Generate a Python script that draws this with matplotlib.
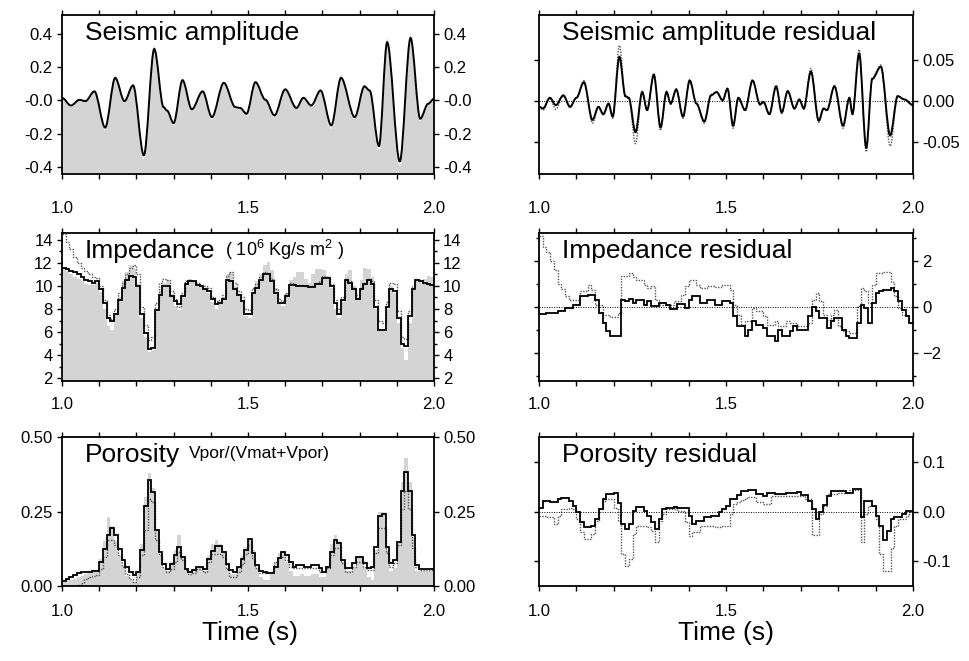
import numpy as np
import matplotlib
matplotlib.use("Agg")
import matplotlib.pyplot as plt
from matplotlib.ticker import FixedLocator, FuncFormatter, MultipleLocator
from matplotlib.path import Path
from matplotlib.patches import PathPatch

plt.rcParams['font.family'] = ['Liberation Sans', 'DejaVu Sans']
plt.rcParams['mathtext.default'] = 'regular'

# ---------------- data ----------------
seis_t = [1.000, 1.024, 1.047, 1.063, 1.087, 1.116, 1.143, 1.168, 1.191, 1.220,
          1.248, 1.273, 1.282, 1.300, 1.324, 1.349, 1.378, 1.403, 1.435, 1.466,
          1.479, 1.496, 1.520, 1.547, 1.571, 1.600, 1.630, 1.649, 1.670, 1.695,
          1.724, 1.750, 1.787, 1.813, 1.827, 1.852, 1.874, 1.908, 1.937, 1.963,
          1.984, 2.000]
seis_inv = [0.016, -0.030, 0.004, -0.004, 0.055, -0.163, 0.136, -0.004, 0.091, -0.330,
            0.310, -0.040, -0.060, -0.136, 0.122, -0.053, 0.055, -0.100, 0.106, -0.040,
            -0.045, -0.080, 0.110, 0.004, -0.090, 0.067, -0.045, 0.016, -0.030, 0.060,
            -0.150, 0.136, -0.100, 0.085, 0.060, -0.274, 0.350, -0.366, 0.376, -0.110,
            -0.020, 0.010]
seis_obs = [0.018, -0.035, 0.005, -0.006, 0.060, -0.175, 0.150, -0.008, 0.100, -0.350,
            0.330, -0.045, -0.065, -0.145, 0.135, -0.060, 0.062, -0.110, 0.115, -0.045,
            -0.050, -0.090, 0.120, 0.004, -0.100, 0.075, -0.050, 0.018, -0.035, 0.068,
            -0.165, 0.150, -0.110, 0.095, 0.065, -0.295, 0.380, -0.390, 0.400, -0.120,
            -0.022, 0.010]

res_t = [1.000, 1.011, 1.029, 1.045, 1.065, 1.083, 1.100, 1.120, 1.143, 1.159,
         1.172, 1.186, 1.197, 1.215, 1.231, 1.240, 1.258, 1.276, 1.289, 1.307,
         1.325, 1.341, 1.352, 1.367, 1.385, 1.403, 1.421, 1.442, 1.460, 1.475,
         1.491, 1.504, 1.519, 1.533, 1.551, 1.571, 1.591, 1.600, 1.616, 1.634,
         1.649, 1.665, 1.683, 1.696, 1.708, 1.727, 1.748, 1.761, 1.770, 1.790,
         1.813, 1.830, 1.838, 1.856, 1.875, 1.891, 1.914, 1.939, 1.959, 1.977,
         2.000]
seisres_a = [-0.007, -0.009, 0.004, -0.005, 0.007, -0.007, 0.004, 0.023, -0.023, -0.007,
             -0.016, -0.003, -0.019, 0.054, 0.006, 0.004, -0.038, 0.011, -0.011, 0.032,
             -0.032, 0.011, -0.003, 0.014, -0.019, 0.025, -0.003, -0.025, 0.007, 0.011,
             0.001, 0.015, -0.030, 0.004, -0.011, 0.025, -0.004, -0.001, -0.016, 0.018,
             -0.014, 0.012, -0.009, 0.002, -0.009, 0.036, -0.024, -0.009, -0.011, 0.018,
             -0.030, 0.004, -0.016, 0.058, -0.057, 0.027, 0.042, -0.042, 0.006, 0.002,
             -0.005]
seisres_b = [-0.007, -0.011, 0.003, -0.010, 0.006, -0.008, 0.004, 0.025, -0.027, -0.008,
             -0.017, -0.004, -0.021, 0.068, 0.005, 0.003, -0.052, 0.012, -0.012, 0.034,
             -0.036, 0.012, -0.004, 0.015, -0.021, 0.026, -0.004, -0.027, 0.008, 0.011,
             0.000, 0.016, -0.033, 0.004, -0.012, 0.026, -0.005, -0.002, -0.017, 0.019,
             -0.015, 0.013, -0.010, 0.002, -0.010, 0.040, -0.026, -0.010, -0.012, 0.019,
             -0.033, 0.004, -0.017, 0.063, -0.062, 0.028, 0.044, -0.055, 0.006, 0.002,
             -0.005]

# step series on 0.01 s layers from 1.00 to 2.00
imp_inv = [11.6, 11.5, 11.3, 11.2, 11.0, 10.8, 10.5, 10.4, 10.3, 10.4,
           9.7, 8.5, 7.2, 7.0, 7.6, 8.8, 9.8, 10.5, 10.9, 10.8,
           10.0, 7.6, 5.9, 4.5, 4.6, 7.9, 9.2, 10.0, 10.0, 9.1,
           8.7, 8.4, 9.1, 10.2, 10.4, 10.4, 10.1, 10.0, 9.7, 9.6,
           8.9, 8.4, 8.5, 8.9, 10.5, 10.4, 9.7, 9.2, 8.7, 7.6,
           7.6, 9.4, 9.8, 10.5, 11.0, 11.0, 10.4, 9.4, 8.5, 8.5,
           9.1, 10.1, 10.1, 10.0, 10.0, 10.0, 9.9, 9.9, 10.2, 10.2,
           10.7, 10.7, 10.0, 8.5, 7.6, 8.8, 10.5, 10.3, 9.7, 8.9,
           9.7, 10.2, 10.5, 10.2, 8.2, 6.2, 6.2, 8.2, 9.7, 9.6,
           7.2, 5.0, 4.8, 7.4, 9.7, 10.5, 10.4, 10.3, 10.2, 10.1]
imp_dot = [14.5, 13.8, 13.2, 12.5, 12.0, 11.6, 11.3, 11.0, 10.8, 10.7,
           10.0, 8.8, 7.5, 7.1, 8.0, 9.4, 10.3, 11.0, 11.6, 11.8,
           11.0, 8.2, 6.6, 5.3, 5.6, 8.5, 10.3, 10.6, 10.5, 9.6,
           8.9, 8.2, 9.4, 10.4, 10.5, 10.4, 10.3, 10.1, 10.0, 9.8,
           9.0, 8.7, 8.8, 9.2, 10.9, 11.2, 10.3, 9.6, 9.0, 8.0,
           7.9, 9.8, 10.2, 10.8, 11.2, 11.1, 10.6, 9.7, 8.9, 8.7,
           9.4, 10.3, 10.2, 10.1, 10.1, 10.0, 10.0, 10.0, 10.3, 10.4,
           10.9, 10.8, 10.2, 8.8, 8.0, 9.0, 10.6, 10.4, 9.8, 9.2,
           9.8, 10.3, 10.6, 10.4, 8.8, 7.0, 6.8, 8.6, 10.3, 10.2,
           7.8, 5.6, 5.4, 7.8, 10.0, 10.6, 10.5, 10.3, 10.2, 10.1]
imp_true = [11.5, 11.3, 11.0, 10.8, 10.6, 10.4, 10.2, 10.1, 10.1, 10.3,
            9.5, 8.0, 6.5, 6.2, 7.5, 9.0, 10.4, 11.2, 11.8, 11.5,
            10.2, 7.2, 5.6, 4.3, 4.4, 8.0, 9.6, 10.3, 10.5, 9.3,
            8.3, 7.9, 9.2, 10.5, 10.6, 10.4, 10.2, 10.0, 9.8, 9.4,
            8.6, 8.0, 8.4, 9.0, 11.0, 11.2, 10.0, 9.4, 8.6, 7.4,
            7.2, 9.5, 10.4, 11.0, 11.8, 12.1, 11.4, 9.8, 8.6, 8.3,
            9.4, 10.5, 10.8, 11.2, 11.2, 10.6, 10.3, 11.0, 11.5, 11.5,
            11.4, 10.9, 9.8, 8.0, 7.2, 8.6, 11.0, 11.4, 10.0, 9.0,
            10.5, 11.6, 11.5, 10.8, 8.0, 6.2, 6.3, 8.0, 10.0, 9.4,
            6.8, 4.6, 3.6, 6.8, 9.8, 10.5, 10.4, 10.6, 10.9, 10.8]

por_inv = [0.017, 0.022, 0.030, 0.037, 0.042, 0.046, 0.047, 0.048, 0.049, 0.050,
           0.080, 0.125, 0.170, 0.196, 0.170, 0.125, 0.086, 0.064, 0.047, 0.036,
           0.047, 0.120, 0.270, 0.357, 0.315, 0.187, 0.114, 0.075, 0.058, 0.075,
           0.103, 0.131, 0.097, 0.058, 0.047, 0.055, 0.064, 0.064, 0.058, 0.092,
           0.117, 0.133, 0.133, 0.114, 0.075, 0.053, 0.047, 0.064, 0.092, 0.120,
           0.159, 0.110, 0.070, 0.050, 0.047, 0.045, 0.042, 0.064, 0.093, 0.115,
           0.104, 0.081, 0.064, 0.070, 0.070, 0.064, 0.064, 0.070, 0.070, 0.059,
           0.047, 0.064, 0.115, 0.155, 0.144, 0.087, 0.059, 0.059, 0.076, 0.098,
           0.098, 0.076, 0.059, 0.064, 0.132, 0.234, 0.240, 0.132, 0.076, 0.087,
           0.149, 0.319, 0.381, 0.319, 0.172, 0.070, 0.057, 0.057, 0.057, 0.057]
por_dot = [0.000, 0.000, 0.000, 0.000, 0.004, 0.010, 0.025, 0.030, 0.033, 0.036,
           0.058, 0.097, 0.153, 0.153, 0.136, 0.103, 0.064, 0.041, 0.025, 0.013,
           0.030, 0.103, 0.187, 0.293, 0.282, 0.153, 0.103, 0.064, 0.047, 0.058,
           0.080, 0.114, 0.086, 0.053, 0.041, 0.045, 0.058, 0.058, 0.047, 0.080,
           0.108, 0.108, 0.108, 0.097, 0.058, 0.030, 0.030, 0.047, 0.075, 0.108,
           0.138, 0.093, 0.059, 0.045, 0.042, 0.042, 0.047, 0.081, 0.098, 0.098,
           0.087, 0.064, 0.059, 0.059, 0.059, 0.059, 0.059, 0.059, 0.059, 0.047,
           0.047, 0.059, 0.104, 0.127, 0.127, 0.076, 0.047, 0.047, 0.064, 0.081,
           0.081, 0.064, 0.053, 0.053, 0.110, 0.195, 0.195, 0.110, 0.064, 0.076,
           0.138, 0.257, 0.319, 0.257, 0.127, 0.064, 0.053, 0.053, 0.053, 0.053]
por_true = [0.020, 0.020, 0.020, 0.025, 0.030, 0.035, 0.040, 0.045, 0.050, 0.055,
            0.090, 0.150, 0.230, 0.200, 0.150, 0.100, 0.060, 0.035, 0.020, 0.015,
            0.050, 0.140, 0.300, 0.380, 0.330, 0.190, 0.100, 0.060, 0.050, 0.080,
            0.120, 0.170, 0.100, 0.050, 0.040, 0.050, 0.060, 0.060, 0.050, 0.100,
            0.140, 0.155, 0.140, 0.110, 0.060, 0.040, 0.040, 0.060, 0.100, 0.130,
            0.160, 0.120, 0.060, 0.030, 0.020, 0.020, 0.040, 0.080, 0.110, 0.110,
            0.080, 0.050, 0.035, 0.035, 0.040, 0.035, 0.035, 0.040, 0.040, 0.030,
            0.030, 0.060, 0.140, 0.170, 0.150, 0.080, 0.050, 0.050, 0.060, 0.100,
            0.100, 0.060, 0.030, 0.020, 0.120, 0.250, 0.250, 0.120, 0.050, 0.060,
            0.150, 0.350, 0.430, 0.350, 0.160, 0.050, 0.050, 0.050, 0.050, 0.050]

impres_a = [-0.29, -0.29, -0.26, -0.26, -0.26, -0.19, -0.19, -0.04, -0.04, 0.10,
            0.10, 0.46, 0.46, 0.53, 0.53, 0.32, -0.26, -0.69, -1.05, -1.24,
            -1.24, -1.24, 0.32, 0.24, 0.35, 0.17, 0.32, 0.32, 0.10, 0.24,
            0.03, 0.03, 0.17, 0.17, 0.10, -0.09, -0.09, 0.14, 0.14, -0.04,
            0.32, 0.49, 0.49, 0.17, 0.17, 0.29, 0.29, 0.10, 0.10, 0.24,
            0.24, 0.17, -0.40, -0.83, -0.83, -1.27, -0.98, -0.62, -0.76, -0.76,
            -0.91, -1.27, -1.27, -1.48, -0.98, -1.27, -1.27, -1.05, -0.83, -0.98,
            -0.98, -1.00, -0.40, 0.00, -0.19, -0.47, -0.47, -0.91, -0.62, -0.47,
            -0.47, -0.98, -1.27, -1.34, -1.34, -0.69, 0.10, -0.04, -0.69, 0.17,
            0.60, 0.68, 0.75, 0.75, 0.82, 0.68, 0.24, -0.12, -0.40, -0.69]
impres_b = [3.05, 2.60, 2.40, 2.00, 1.60, 1.00, 0.80, 0.46, 0.32, 0.32,
            0.32, 0.68, 0.68, 0.96, 0.75, 0.10, 0.10, -0.33, -0.33, -0.43,
            -0.43, -0.26, 1.35, 1.35, 1.47, 1.30, 1.18, 1.18, 0.96, 0.82,
            0.90, 0.32, 0.10, 0.10, 0.10, 0.10, 0.24, 0.24, 0.53, 0.90,
            1.18, 1.18, 0.96, 0.82, 0.82, 0.90, 0.90, 0.86, 0.86, 0.96,
            0.96, 0.75, 0.10, -0.33, -0.76, -0.62, -0.62, -0.04, -0.19, -0.19,
            -0.40, -0.76, -0.76, -0.62, -0.83, -0.83, -0.62, -0.69, -0.69, -0.83,
            -0.83, -0.83, -0.69, 0.32, 0.60, 0.24, -0.33, -0.55, -0.33, -0.12,
            -0.83, -1.05, -1.05, -1.12, -1.12, 0.03, 0.82, 0.68, 0.17, 0.96,
            1.47, 1.47, 1.50, 1.50, 1.10, 0.46, -0.04, -0.33, -0.33, -0.69]

porres_a = [0.008, 0.022, 0.022, 0.020, 0.020, 0.025, 0.028, 0.028, 0.022, 0.011,
            -0.002, -0.022, -0.032, -0.032, -0.029, -0.015, 0.005, 0.025, 0.035, 0.035,
            0.037, 0.018, -0.026, -0.036, -0.026, 0.001, 0.010, 0.010, 0.001, -0.009,
            -0.022, -0.036, -0.015, 0.005, 0.008, 0.008, 0.010, 0.008, 0.008, 0.008,
            -0.009, -0.026, -0.019, -0.019, -0.012, -0.012, -0.009, -0.009, -0.002, 0.005,
            0.011, 0.025, 0.026, 0.034, 0.041, 0.041, 0.043, 0.043, 0.036, 0.036,
            0.032, 0.038, 0.038, 0.036, 0.036, 0.036, 0.038, 0.038, 0.038, 0.039,
            0.034, 0.034, 0.022, 0.005, -0.016, -0.002, 0.013, 0.032, 0.041, 0.041,
            0.041, 0.041, 0.038, 0.038, 0.045, 0.045, -0.012, 0.022, 0.022, 0.012,
            -0.009, -0.030, -0.057, -0.040, -0.016, -0.012, -0.012, -0.006, 0.001, 0.001]
porres_b = [-0.009, -0.009, -0.012, -0.012, -0.026, -0.009, 0.005, 0.005, 0.008, 0.005,
            -0.015, -0.042, -0.056, -0.056, -0.046, -0.019, 0.005, 0.022, 0.025, 0.025,
            0.008, -0.019, -0.086, -0.110, -0.096, -0.046, -0.030, -0.029, -0.029, -0.032,
            -0.039, -0.061, -0.019, -0.005, 0.006, 0.006, 0.006, 0.001, 0.001, -0.022,
            -0.049, -0.042, -0.042, -0.029, -0.029, -0.029, -0.029, -0.032, -0.032, -0.029,
            -0.029, -0.005, 0.015, 0.020, 0.024, 0.027, 0.029, 0.029, 0.019, 0.019,
            0.015, 0.015, 0.031, 0.031, 0.031, 0.031, 0.031, 0.031, 0.031, 0.031,
            0.032, 0.026, 0.026, -0.047, -0.047, -0.006, 0.012, 0.036, 0.036, 0.036,
            0.038, 0.038, 0.038, 0.043, 0.043, 0.043, -0.061, -0.006, 0.012, 0.012,
            -0.016, -0.085, -0.120, -0.120, -0.074, -0.030, -0.016, -0.016, -0.009, 0.000]

edges = np.linspace(1.0, 2.0, 101)

# ---------------- styling ----------------
GREY = '#d4d4d4'
DOT = '#555555'
TICKLEN = 3.6
TFS = 12
W, H = 969, 661

fig = plt.figure(figsize=(W / 100, H / 100), dpi=100)


def make_ax(left_px, top_px, right_px, bottom_px):
    return fig.add_axes([left_px / W, 1 - bottom_px / H,
                         (right_px - left_px) / W, (bottom_px - top_px) / H])


def wave_path(t, v, base=None):
    """Smooth Bezier path through the read extrema (horizontal tangents)."""
    verts = [(t[0], v[0])]
    codes = [Path.MOVETO]
    for i in range(len(t) - 1):
        dt = t[i + 1] - t[i]
        verts += [(t[i] + dt / 3, v[i]), (t[i + 1] - dt / 3, v[i + 1]), (t[i + 1], v[i + 1])]
        codes += [Path.CURVE4] * 3
    if base is not None:
        verts += [(t[-1], base), (t[0], base), (t[0], v[0])]
        codes += [Path.LINETO, Path.LINETO, Path.CLOSEPOLY]
    return Path(verts, codes)


def style_x(ax, pad):
    ax.set_xlim(1.0, 2.0)
    ax.xaxis.set_major_locator(MultipleLocator(0.1))
    ax.xaxis.set_major_formatter(FuncFormatter(
        lambda v, p: f"{v:.1f}" if abs(v * 2 - round(v * 2)) < 1e-6 else ""))
    ax.tick_params(axis='x', which='both', direction='out', top=True, bottom=True,
                   length=TICKLEN, width=1, labelsize=TFS, pad=pad)


def style_y(ax, labelleft):
    ax.tick_params(axis='y', which='both', direction='out', left=True, right=True,
                   labelleft=labelleft, labelright=True, width=1, labelsize=TFS)
    ax.tick_params(axis='y', which='major', length=TICKLEN, pad=3)
    ax.tick_params(axis='y', which='minor', length=TICKLEN * 0.6)
    for s in ax.spines.values():
        s.set_linewidth(1.3)


def title(ax, txt, hpx, size=19):
    ax.text(23 / 372, 1 - 25 / hpx, txt, transform=ax.transAxes,
            fontsize=size, ha='left', va='baseline')


L0, L1 = 62, 434
R0, R1 = 539, 913
ROWS = [(15, 174), (233, 381), (437, 586)]

# ---- row 1 left: seismic amplitude ----
ax = make_ax(L0, ROWS[0][0], L1, ROWS[0][1])
y0, y1 = -0.442, 0.514
ax.add_patch(PathPatch(wave_path(seis_t, seis_obs, base=y0), facecolor=GREY, lw=0))
ax.add_patch(PathPatch(wave_path(seis_t, seis_obs), facecolor='none',
                       edgecolor='white', lw=1.0, ls=':'))
ax.add_patch(PathPatch(wave_path(seis_t, seis_inv), facecolor='none',
                       edgecolor='black', lw=1.4))
ax.set_ylim(y0, y1)
ax.yaxis.set_major_locator(FixedLocator([-0.4, -0.2, 0.0, 0.2, 0.4]))
ax.set_yticklabels(['-0.4', '-0.2', '-0.0', '0.2', '0.4'])
style_x(ax, 16)
style_y(ax, True)
title(ax, 'Seismic amplitude', 159)

# ---- row 1 right: seismic residual ----
ax = make_ax(R0, ROWS[0][0], R1, ROWS[0][1])
ax.axhline(0, color='black', lw=0.7, ls=(0, (1, 1.5)))
ax.add_patch(PathPatch(wave_path(res_t, seisres_b), facecolor='none',
                       edgecolor=DOT, lw=1.0, ls=(0, (1, 1))))
ax.add_patch(PathPatch(wave_path(res_t, seisres_a), facecolor='none',
                       edgecolor='black', lw=1.4))
ax.set_ylim(-0.089, 0.105)
ax.yaxis.set_major_locator(FixedLocator([-0.05, 0.0, 0.05]))
ax.set_yticklabels(['-0.05', '0.00', '0.05'])
style_x(ax, 16)
style_y(ax, False)
title(ax, 'Seismic amplitude residual', 159)

# ---- row 2 left: impedance ----
ax = make_ax(L0, ROWS[1][0], L1, ROWS[1][1])
y0, y1 = 1.75, 14.6
ax.stairs(imp_true, edges, baseline=y0, fill=True, color=GREY, lw=0)
ax.stairs(imp_dot, edges, baseline=None, color=DOT, lw=1.0, ls=(0, (1, 1)))
ax.stairs(imp_inv, edges, baseline=None, color='black', lw=1.3)
ax.set_ylim(y0, y1)
ax.yaxis.set_major_locator(FixedLocator([2, 4, 6, 8, 10, 12, 14]))
ax.yaxis.set_minor_locator(FixedLocator([3, 5, 7, 9, 11, 13]))
style_x(ax, 8)
style_y(ax, True)
title(ax, 'Impedance', 148)
ax.text(163 / 372, 1 - 23 / 148, r'( 10$^{6}$ Kg/s m$^{2}$ )', transform=ax.transAxes,
        fontsize=13, ha='left', va='baseline')

# ---- row 2 right: impedance residual ----
ax = make_ax(R0, ROWS[1][0], R1, ROWS[1][1])
ax.axhline(0, color='black', lw=0.7, ls=(0, (1, 1.5)))
ax.stairs(impres_b, edges, baseline=None, color=DOT, lw=1.0, ls=(0, (1, 1)))
ax.stairs(impres_a, edges, baseline=None, color='black', lw=1.3)
ax.set_ylim(-3.2, 3.2)
ax.yaxis.set_major_locator(FixedLocator([-2, 0, 2]))
ax.yaxis.set_minor_locator(FixedLocator([-3, -1, 1, 3]))
style_x(ax, 8)
style_y(ax, False)
title(ax, 'Impedance residual', 148)

# ---- row 3 left: porosity ----
ax = make_ax(L0, ROWS[2][0], L1, ROWS[2][1])
y0, y1 = 0.0, 0.5
ax.stairs(por_true, edges, baseline=y0, fill=True, color=GREY, lw=0)
ax.stairs(por_dot, edges, baseline=None, color=DOT, lw=1.0, ls=(0, (1, 1)))
ax.stairs(por_inv, edges, baseline=None, color='black', lw=1.3)
ax.set_ylim(y0, y1)
ax.yaxis.set_major_locator(FixedLocator([0.0, 0.25, 0.5]))
ax.set_yticklabels(['0.00', '0.25', '0.50'])
style_x(ax, 9)
style_y(ax, True)
title(ax, 'Porosity', 149)
ax.text(127 / 372, 1 - 21 / 149, 'Vpor/(Vmat+Vpor)', transform=ax.transAxes,
        fontsize=12.5, ha='left', va='baseline')

# ---- row 3 right: porosity residual ----
ax = make_ax(R0, ROWS[2][0], R1, ROWS[2][1])
ax.axhline(0, color='black', lw=0.7, ls=(0, (1, 1.5)))
ax.stairs(porres_b, edges, baseline=None, color=DOT, lw=1.0, ls=(0, (1, 1)))
ax.stairs(porres_a, edges, baseline=None, color='black', lw=1.3)
ax.set_ylim(-0.15, 0.15)
ax.yaxis.set_major_locator(FixedLocator([-0.1, 0.0, 0.1]))
ax.set_yticklabels(['-0.1', '0.0', '0.1'])
style_x(ax, 9)
style_y(ax, False)
title(ax, 'Porosity residual', 149)

fig.text(250 / W, 1 - 633 / H, 'Time (s)', ha='center', va='center', fontsize=19)
fig.text(726 / W, 1 - 633 / H, 'Time (s)', ha='center', va='center', fontsize=19)

fig.savefig('out.png', dpi=100)
